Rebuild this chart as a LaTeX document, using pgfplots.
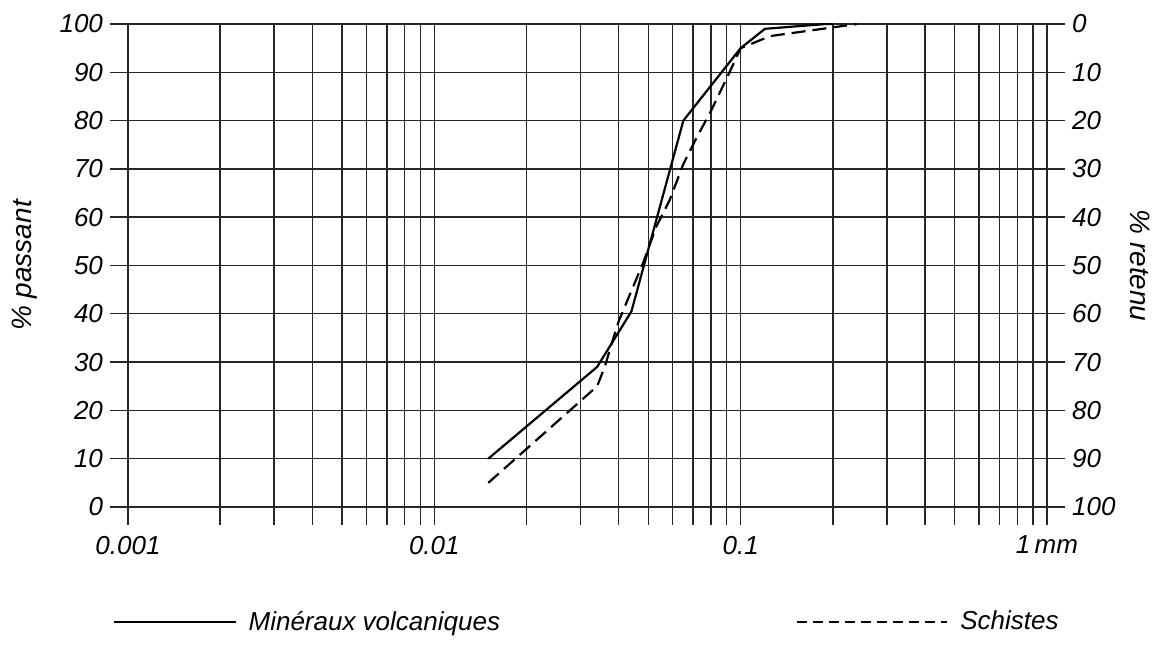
\documentclass[border=0pt]{standalone}
\usepackage{pgfplots}
\pgfplotsset{compat=1.18}
\usepackage{fontspec}
\setmainfont{Liberation Sans}
\newcommand{\lbl}{\itshape\fontsize{13}{15}\selectfont}

\begin{document}
\begin{tikzpicture}
\begin{axis}[
    name=main,
    width=459.5pt, height=241.5pt, scale only axis,
    xmode=log, xmin=0.001, xmax=1, ymin=0, ymax=100,
    /pgf/number format/assume math mode=true,
    tick label style={font=\lbl},
    label style={font=\itshape\fontsize{14}{16}\selectfont},
    tick align=outside,
    major tick length=9pt, minor tick length=9pt,
    xtick={0.001,0.01,0.1,1},
    xticklabels={0.001,0.01,0.1,1\,mm},
    xticklabel style={yshift=-2pt},
    minor xtick={0.002,0.003,0.004,0.005,0.006,0.007,0.008,0.009,
                 0.02,0.03,0.04,0.05,0.06,0.07,0.08,0.09,
                 0.2,0.3,0.4,0.5,0.6,0.7,0.8,0.9},
    ytick={0,10,...,100},
    xtick pos=bottom, ytick pos=both, yticklabel pos=left,
    grid=both,
    major grid style={black!85, line width=0.7pt},
    minor grid style={black!85, line width=0.7pt},
    axis line style={black!85, line width=0.7pt},
    tick style={black!85, line width=0.7pt},
    ylabel={\% passant},
    ylabel style={at={(axis description cs:-0.112,0.5)}, anchor=center},
    legend columns=2,
    legend style={draw=none, fill=none, at={(0.5,-0.238)}, anchor=center,
        font=\lbl,
        /tikz/every odd column/.append style={column sep=4pt},
        /tikz/every even column/.append style={column sep=146pt}},
]
\addplot[black, line width=1.1pt,
    legend image code/.code={\draw[black, line width=1.1pt] (0pt,0pt) -- (61pt,0pt);}]
coordinates {
    (0.015,10) (0.034,29) (0.044,40.5) (0.065,80) (0.1,95)
    (0.12,99) (0.19,100) (0.2,100)
};
\addlegendentry{Minéraux volcaniques}
\addplot[black, line width=1.1pt, dash pattern=on 7pt off 3.5pt,
    legend image code/.code={\draw[black, line width=1.1pt, dash pattern=on 5pt off 3pt] (0pt,0pt) -- (75pt,0pt);}]
coordinates {
    (0.015,5) (0.034,25) (0.036,29) (0.038,34) (0.040,38.5)
    (0.048,50.5) (0.053,58) (0.0586,63.5) (0.065,71) (0.0712,76)
    (0.08,82) (0.092,90) (0.1,95) (0.125,97.5) (0.24,100)
};
\addlegendentry{Schistes}
\end{axis}
\begin{axis}[
    width=459.5pt, height=241.5pt, scale only axis,
    xmin=0, xmax=1, ymin=0, ymax=100,
    y dir=reverse,
    hide x axis,
    axis y line*=right,
    axis line style={draw=none},
    /pgf/number format/assume math mode=true,
    tick label style={font=\lbl},
    label style={font=\itshape\fontsize{14}{16}\selectfont},
    tick align=outside,
    major tick length=9pt,
    ytick={0,10,...,100},
    ytick style={draw=none},
    ylabel={\% retenu},
    ylabel style={at={(axis description cs:1.101,0.5)}, anchor=center, rotate=180},
]
\end{axis}
\path ([shift={(-64pt,-75pt)}]main.south west) rectangle ([shift={(58pt,12pt)}]main.north east);
\end{tikzpicture}
\end{document}
